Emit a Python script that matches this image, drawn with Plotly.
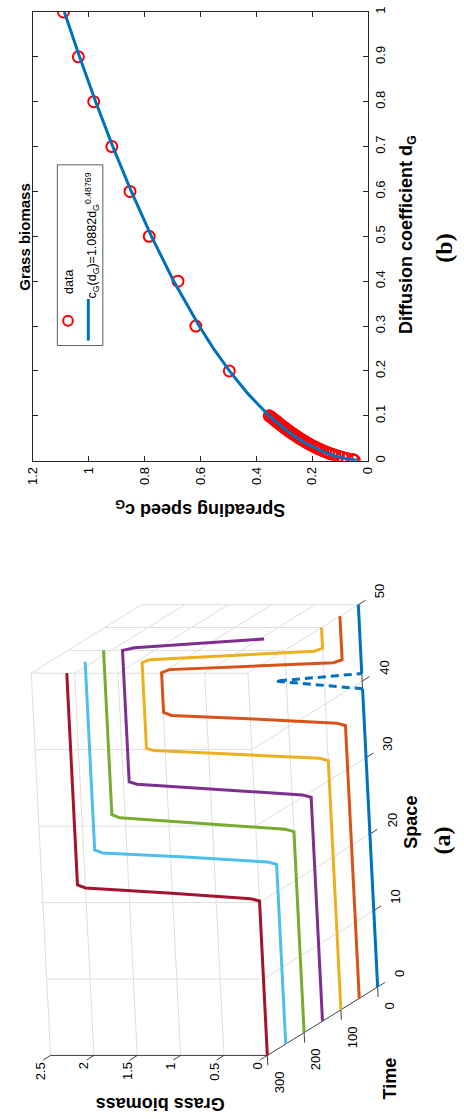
import plotly.graph_objects as go

# ---------------- Panel (b) data: spreading speed vs diffusion coefficient ----------------
DG_MAIN = [0.2, 0.3, 0.4, 0.5, 0.6, 0.7, 0.8, 0.9, 1.0]
CG_MAIN = [0.497, 0.617, 0.681, 0.784, 0.853, 0.918, 0.983, 1.038, 1.0915]

DG_DENSE = [0.001, 0.0025, 0.005, 0.0075, 0.01, 0.0125, 0.015, 0.0175, 0.02, 0.0225,
            0.025, 0.0275, 0.03, 0.0325, 0.035, 0.0375, 0.04, 0.0425, 0.045, 0.0475,
            0.05, 0.0525, 0.055, 0.0575, 0.06, 0.0625, 0.065, 0.0675, 0.07, 0.0725,
            0.075, 0.0775, 0.08, 0.0825, 0.085, 0.0875, 0.09, 0.0925, 0.095, 0.0975, 0.1]
CG_DENSE = [0.049, 0.055, 0.075, 0.092, 0.106, 0.119, 0.131, 0.142, 0.152, 0.162,
            0.171, 0.180, 0.188, 0.196, 0.204, 0.211, 0.218, 0.225, 0.232, 0.239,
            0.245, 0.251, 0.257, 0.263, 0.269, 0.275, 0.281, 0.286, 0.292, 0.297,
            0.302, 0.308, 0.313, 0.318, 0.323, 0.328, 0.333, 0.338, 0.343, 0.348, 0.354]

FIT_DG = [0.001, 0.002, 0.003, 0.005, 0.0075, 0.01, 0.015, 0.02, 0.03, 0.04, 0.05, 0.07,
          0.1, 0.15, 0.2, 0.25, 0.3, 0.4, 0.5, 0.6, 0.7, 0.8, 0.9, 1.0]
FIT_CG = [0.0375, 0.0525, 0.0640, 0.0821, 0.1001, 0.1152, 0.1404, 0.1615, 0.1968, 0.2265,
          0.2525, 0.2975, 0.3540, 0.4314, 0.4964, 0.5535, 0.6049, 0.6961, 0.7761, 0.8482,
          0.9145, 0.9760, 1.0337, 1.0882]

SPEED_TICKS = [0, 0.2, 0.4, 0.6, 0.8, 1.0, 1.2]
SPEED_LABELS = ["0", "0.2", "0.4", "0.6", "0.8", "1", "1.2"]
DG_TICKS = [0, 0.1, 0.2, 0.3, 0.4, 0.5, 0.6, 0.7, 0.8, 0.9, 1.0]
DG_LABELS = ["0", "0.1", "0.2", "0.3", "0.4", "0.5", "0.6", "0.7", "0.8", "0.9", "1"]

# ---------------- Panel (a) data: grass biomass profiles at several times ----------------
TIMES = [0, 50, 100, 150, 200, 250, 300]
S_T0 = [0, 39, 40, 41, 50]
G_T0 = [0, 0, 1.0, 0, 0]
S_T50 = [0, 35.7, 36.0, 36.55, 37.0, 37.4, 42.6, 43.0, 43.45, 43.9, 44.3, 50]
G_T50 = [0, 0, 0.1, 1.05, 2.0, 2.09, 2.09, 2.0, 1.05, 0.1, 0, 0]
S_T100 = [0, 32.6, 32.9, 33.4, 33.9, 34.2, 45.4, 45.8, 46.35, 46.9, 47.3, 50]
G_T100 = [0, 0, 0.1, 1.05, 2.0, 2.09, 2.09, 2.0, 1.05, 0.1, 0, 0]
S_T150 = [0, 29.3, 29.6, 30.3, 31.0, 31.3, 48.5, 48.85, 50]
G_T150 = [0, 0, 0.1, 1.05, 2.0, 2.09, 2.09, 1.95, 0.45]
S_T200 = [0, 26.3, 26.6, 27.4, 28.1, 28.5, 50]
G_T200 = [0, 0, 0.1, 1.05, 2.0, 2.09, 2.09]
S_T250 = [0, 23.5, 23.8, 24.45, 25.0, 25.4, 50]
G_T250 = [0, 0, 0.1, 1.05, 2.0, 2.09, 2.09]
S_T300 = [0, 20.2, 20.5, 21.25, 21.9, 22.3, 50]
G_T300 = [0, 0, 0.1, 1.05, 2.0, 2.09, 2.09]
COLORS = ["#0072BD", "#D95319", "#EDB120", "#7E2F8E", "#77AC30", "#4DBEEE", "#A2142F"]

SPACE_TICKS = [0, 10, 20, 30, 40, 50]
TIME_TICKS = [0, 100, 200, 300]
Z_TICKS = [0, 0.5, 1.0, 1.5, 2.0, 2.5]
Z_LABELS = ["0", "0.5", "1", "1.5", "2", "2.5"]

# ---------------- layout constants ----------------
W, H = 464, 1119
FONT = "Liberation Sans, Arial, Helvetica, sans-serif"
SERIF = "Liberation Serif, Times New Roman, serif"
AXC = "#262626"
GRIDC = "#DEDEDE"

# orthographic view of the 3-D box (rotated page), in page pixels
AX0, AY0 = 382.0, 988.0
AS, BS = -0.4, -7.7     # per unit space
AT, BT = -0.38, 0.23    # per unit time
AZ = -89.6              # per unit biomass


def proj(s, t, z):
    return AX0 + AS * s + AT * t + AZ * z, AY0 + BS * s + BT * t


def add_seg(xs, ys, p0, p1):
    a = proj(*p0)
    b = proj(*p1)
    xs += [a[0], b[0], None]
    ys += [a[1], b[1], None]


fig = go.Figure()

# ================= Panel (a) =================
gx, gy = [], []
for s in SPACE_TICKS[1:]:
    add_seg(gx, gy, (s, 0, 0), (s, 300, 0))        # floor, const space
    add_seg(gx, gy, (s, 300, 0), (s, 300, 2.5))    # back wall, const space
for t in TIME_TICKS[1:]:
    add_seg(gx, gy, (0, t, 0), (50, t, 0))         # floor, const time
for z in Z_TICKS[1:]:
    add_seg(gx, gy, (0, 300, z), (50, 300, z))     # back wall, const biomass
    add_seg(gx, gy, (50, 0, z), (50, 300, z))      # side wall, const biomass
for t in TIME_TICKS[:-1]:
    add_seg(gx, gy, (50, t, 0), (50, t, 2.5))      # side wall, const time
fig.add_trace(go.Scatter(x=gx, y=gy, mode="lines", xaxis="x2", yaxis="y2",
                         line=dict(color=GRIDC, width=1), hoverinfo="skip", showlegend=False))

ax_x, ax_y = [], []
add_seg(ax_x, ax_y, (0, 0, 0), (50, 0, 0))
add_seg(ax_x, ax_y, (0, 0, 0), (0, 300, 0))
add_seg(ax_x, ax_y, (0, 300, 0), (0, 300, 2.5))
for s in SPACE_TICKS:
    add_seg(ax_x, ax_y, (s, 0, 0), (s, -20, 0))
for t in TIME_TICKS:
    add_seg(ax_x, ax_y, (0, t, 0), (-1.3, t, 0))
for z in Z_TICKS:
    add_seg(ax_x, ax_y, (0, 300, z), (0, 320, z))
fig.add_trace(go.Scatter(x=ax_x, y=ax_y, mode="lines", xaxis="x2", yaxis="y2",
                         line=dict(color="#404040", width=1), hoverinfo="skip", showlegend=False))

profiles = [(S_T0, G_T0), (S_T50, G_T50), (S_T100, G_T100), (S_T150, G_T150),
            (S_T200, G_T200), (S_T250, G_T250), (S_T300, G_T300)]
for i in range(len(TIMES) - 1, 0, -1):
    t = TIMES[i]
    S, G = profiles[i]
    pts = [proj(s, t, g) for s, g in zip(S, G)]
    fig.add_trace(go.Scatter(x=[p[0] for p in pts], y=[p[1] for p in pts], mode="lines",
                             xaxis="x2", yaxis="y2", line=dict(color=COLORS[i], width=3),
                             hoverinfo="skip", showlegend=False))

# t = 0 initial condition: flat parts solid, the narrow patch dashed
pts0 = [proj(s, TIMES[0], g) for s, g in zip(S_T0, G_T0)]
solid_idx = [0, 1, None, 3, 4]
fig.add_trace(go.Scatter(x=[pts0[k][0] if k is not None else None for k in solid_idx],
                         y=[pts0[k][1] if k is not None else None for k in solid_idx],
                         mode="lines", xaxis="x2", yaxis="y2",
                         line=dict(color=COLORS[0], width=3), hoverinfo="skip", showlegend=False))
fig.add_trace(go.Scatter(x=[pts0[k][0] for k in (1, 2, 3)], y=[pts0[k][1] for k in (1, 2, 3)],
                         mode="lines", xaxis="x2", yaxis="y2",
                         line=dict(color=COLORS[0], width=3, dash="8px,5px"),
                         hoverinfo="skip", showlegend=False))

ann = []


def label(x, y, text, size=13, angle=-90, bold=False, family=FONT, xa="center", ya="middle"):
    ann.append(dict(x=x, y=y, xref="x2", yref="y2", text=("<b>%s</b>" % text) if bold else text,
                    showarrow=False, textangle=angle, xanchor=xa, yanchor=ya,
                    font=dict(family=family, size=size, color="#000000")))


for s in SPACE_TICKS:
    px, py = proj(s, -60, 0)
    label(px, py, str(s))
for t in TIME_TICKS:
    px, py = proj(0, t, 0)
    label(px + 12, py + 14, str(t), ya="top")
for z, lab in zip(Z_TICKS, Z_LABELS):
    px, py = proj(0, 300, z)
    label(px - 10, py + 5, lab, ya="top")

label(417, 822, "Space", size=18, bold=True)
label(395, 1080, "Time", size=18, bold=True)
label(157, 1106, "Grass biomass", size=18, angle=180, bold=True)
label(449, 840, "(a)", size=24, bold=True, family=SERIF)

# ================= Panel (b) =================
fig.add_trace(go.Scatter(x=CG_MAIN + CG_DENSE, y=DG_MAIN + DG_DENSE, mode="markers",
                         name="data", xaxis="x", yaxis="y",
                         marker=dict(symbol="circle-open", size=11, color="#FF0000",
                                     line=dict(width=2, color="#FF0000")),
                         showlegend=False))
fig.add_trace(go.Scatter(x=FIT_CG, y=FIT_DG, mode="lines", name="fit", xaxis="x", yaxis="y",
                         line=dict(color="#0072BD", width=3), showlegend=False))

label(17, 232, "Grass biomass", size=15, bold=True)
label(413, 230, "Diffusion coefficient d<sub>G</sub>", size=18, bold=True)
label(199, 506, "Spreading speed c<sub>G</sub>", size=18, angle=180, bold=True)
label(451, 244, "(b)", size=24, bold=True, family=SERIF)

# legend drawn by hand (rotated page)
shapes = [
    dict(type="rect", xref="x2", yref="y2", x0=51, x1=98, y0=160, y1=342,
         line=dict(color="#333333", width=0.8), fillcolor="white", layer="above"),
    dict(type="circle", xref="x2", yref="y2", x0=57, x1=67, y0=312, y1=322,
         line=dict(color="#FF0000", width=2), layer="above"),
    dict(type="line", xref="x2", yref="y2", x0=83, x1=83, y0=295, y1=337,
         line=dict(color="#0072BD", width=3), layer="above"),
]
label(63, 278, "data", size=12.5)
label(87, 231, "c<sub>G</sub>(d<sub>G</sub>)=1.0882d<sub>G</sub><sup>0.48769</sup>", size=12.5)

xl, xr = 26 / W, 372 / W
yb, yt = 1 - 458 / H, 1 - 6 / H

fig.update_layout(
    width=W, height=H, autosize=False,
    margin=dict(l=0, r=0, t=0, b=0),
    paper_bgcolor="white", plot_bgcolor="rgba(0,0,0,0)",
    showlegend=False,
    font=dict(family=FONT, size=13, color="#000000"),
    xaxis=dict(domain=[xl, xr], range=[1.2, 0], anchor="y", tickvals=SPEED_TICKS,
               ticktext=SPEED_LABELS, tickangle=-90, ticks="inside", ticklen=5,
               tickcolor=AXC, showline=True, linecolor=AXC, linewidth=1, mirror="ticks",
               showgrid=False, zeroline=False, tickfont=dict(size=13)),
    yaxis=dict(domain=[yb, yt], range=[0, 1], anchor="x", side="right", tickvals=DG_TICKS,
               ticktext=DG_LABELS, tickangle=-90, ticks="inside", ticklen=5,
               tickcolor=AXC, showline=True, linecolor=AXC, linewidth=1, mirror="ticks",
               showgrid=False, zeroline=False, tickfont=dict(size=13)),
    xaxis2=dict(domain=[0, 1], range=[0, W], anchor="y2", visible=False, fixedrange=True),
    yaxis2=dict(domain=[0, 1], range=[H, 0], anchor="x2", visible=False, fixedrange=True),
    annotations=ann,
    shapes=shapes,
)

fig.write_html("out.html", config={"displayModeBar": False},
               post_script="document.body.style.margin='0';document.body.style.overflow='hidden';")
